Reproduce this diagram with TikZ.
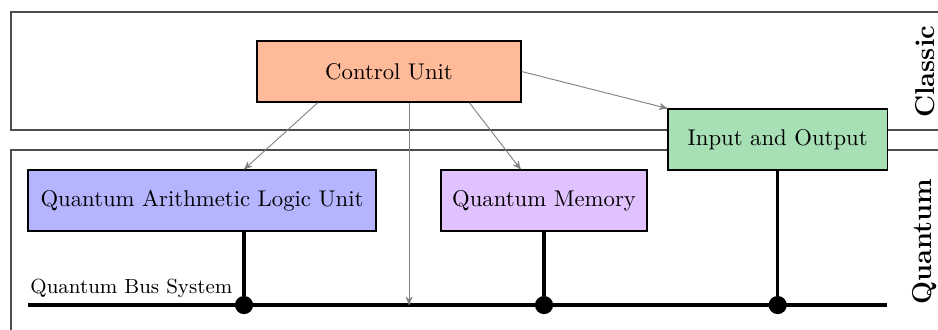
\documentclass[tikz,border=0pt]{standalone}
\usepackage{amsmath, amssymb}
\usetikzlibrary{arrows}

\definecolor{cuColor}{RGB}{255,187,153}
\definecolor{ioColor}{RGB}{168,224,182}
\definecolor{aluColor}{RGB}{180,180,255}
\definecolor{memColor}{RGB}{224,194,255}

\begin{document}
\begin{tikzpicture}[>=stealth']
\tikzstyle{layerStyle}=[draw = black!70, thick]
\tikzstyle{unitStyle}=[draw, semithick, minimum height = 0.94cm, inner sep = 2pt]
\tikzstyle{signalStyle}=[->, gray, thin]
\tikzstyle{busStyle}=[line width = 1.4pt]
\tikzstyle{tapStyle}=[circle, fill, inner sep = 0pt, minimum size = 8pt]
\tikzstyle{sideStyle}=[rotate = 90, font = \bfseries\large]
\useasboundingbox (0,0) rectangle (14.51,5.09);
\draw[layerStyle] (15,3.079) -- (0.170,3.079) -- (0.170,4.904) -- (15,4.904);
\draw[layerStyle] (15,2.769) -- (0.170,2.769) -- (0.170,-0.5);
\node[sideStyle] (classic) at (14.31,3.98) {Classic};
\node[sideStyle] (quantum) at (14.31,1.346) {Quantum};
\node[unitStyle, fill = cuColor, minimum width = 4.08cm] (cu) at (6.018,3.984) {Control Unit};
\node[unitStyle, fill = ioColor, minimum width = 3.39cm] (io) at (12.03,2.932) {Input and Output};
\node[unitStyle, fill = aluColor, minimum width = 5.38cm] (alu) at (3.125,1.988) {Quantum Arithmetic Logic Unit};
\node[unitStyle, fill = memColor, minimum width = 3.19cm] (mem) at (8.416,1.988) {Quantum Memory};
\coordinate (busL) at (0.433,0.371);
\coordinate (busR) at (13.72,0.371);
\node[anchor = base west, inner sep = 0pt, font = \small] (busLabel) at (0.464,0.557) {Quantum Bus System};
\draw[busStyle] (busL) -- (busR);
\node[tapStyle] (t1) at (3.775,0.371) {};
\node[tapStyle] (t2) at (mem.south |- busL) {};
\node[tapStyle] (t3) at (io.south |- busL) {};
\draw[busStyle] (alu.south -| t1) -- (t1);
\draw[busStyle] (mem.south) -- (t2);
\draw[busStyle] (io.south) -- (t3);
\draw[signalStyle] ([xshift = -1.10cm]cu.south) -- (alu.north -| t1);
\draw[signalStyle] ([xshift = 0.31cm]cu.south) -- ([xshift = 0.31cm]cu.south |- busL);
\draw[signalStyle] ([xshift = 1.24cm]cu.south) -- ([xshift = -0.36cm]mem.north);
\draw[signalStyle] (cu.east) -- (io.north west);
\end{tikzpicture}
\end{document}
